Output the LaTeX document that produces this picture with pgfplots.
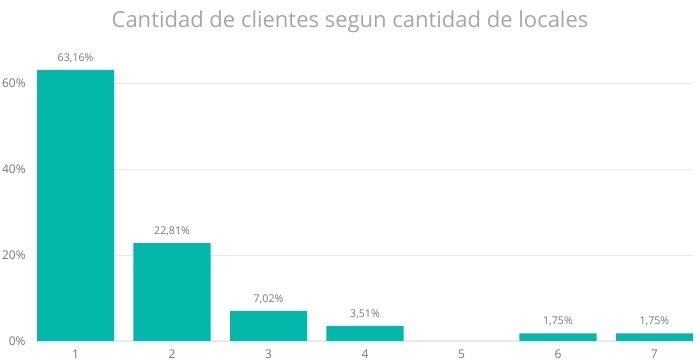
\documentclass[border=0pt]{standalone}
\usepackage{pgfplots}
\pgfplotsset{compat=1.18}
\usepackage{fontspec}
\setmainfont{Open Sans}
\definecolor{barc}{HTML}{01B8AA}
\definecolor{tickc}{HTML}{777777}
\definecolor{gridc}{HTML}{E9E9E9}
\definecolor{titlec}{HTML}{A6A6A6}
\begin{document}
\begin{tikzpicture}[x=1pt,y=1pt]
\useasboundingbox (0,0) rectangle (525,272.25);
\node[text=titlec,font=\fontsize{16.5}{18}\selectfont] at (262.5,256) {Cantidad de clientes segun cantidad de locales};
\begin{axis}[
  at={(27.75pt,16.5pt)}, anchor=origin,
  scale only axis, width=492pt, height=219pt,
  xmin=0.6, xmax=7.4, ymin=0, ymax=68,
  axis line style={draw=none},
  tick style={draw=none},
  xtick={1,...,7},
  ytick={0,20,40,60},
  yticklabel={\pgfmathprintnumber{\tick}\%},
  ymajorgrids, xmajorgrids=false, grid style={draw=gridc, line width=0.8pt},
  ticklabel style={text=tickc, font=\fontsize{9}{10}\selectfont},
  /pgf/number format/assume math mode=true,
  xticklabel style={yshift=1pt},
  yticklabel style={xshift=-5pt},
  ybar, bar width=0.8, bar shift=0pt,
  nodes near coords={\pgfmathprintnumber[fixed,fixed zerofill,precision=2,use comma]{\pgfplotspointmeta}\%},
  nodes near coords style={text=tickc, font=\fontsize{8}{9}\selectfont, yshift=2pt},
  point meta=explicit,
  clip=false,
]
\addplot[fill=barc, draw=none] coordinates {
  (1,63.16) [63.16]
  (2,22.81) [22.81]
  (3,7.02) [7.02]
  (4,3.51) [3.51]
  (6,1.75) [1.75]
  (7,1.75) [1.75]
};
\end{axis}
\end{tikzpicture}
\end{document}
